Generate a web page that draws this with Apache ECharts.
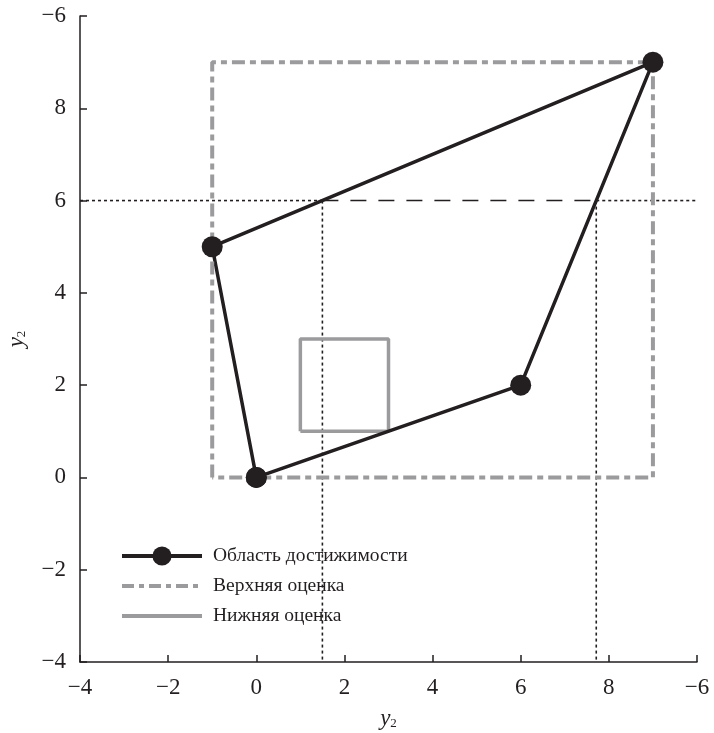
<!DOCTYPE html>
<html>
<head>
<meta charset="utf-8">
<style>html,body{margin:0;padding:0;background:#fff;}#chart{width:714px;height:733px;}</style>
<script src="https://cdn.jsdelivr.net/npm/echarts@6/dist/echarts.min.js"></script>
</head>
<body>
<div id="chart"></div>
<script>
// Attainable region vertices (closed polygon)
const regionPoints = [[0, 0], [-1, 5], [9, 9], [6, 2], [0, 0]];
// Upper estimate box
const upperBox = [[-1, 0], [-1, 9], [9, 9], [9, 0], [-1, 0]];
// Lower estimate box
const lowerBox = [[1, 1], [1, 3], [3, 3], [3, 1], [1, 1]];
// Level line y = 6 and its crossings with the region boundary
const levelY = 6;
const crossX = [1.5, 7.714];
const axisMin = -4;
const axisMax = 10;
// Tick labels as printed
const tickValues = [-4, -2, 0, 2, 4, 6, 8, 10];
const tickLabels = ['−4', '−2', '0', '2', '4', '6', '8', '−6'];
const seriesNames = ['Область достижимости', 'Верхняя оценка', 'Нижняя оценка'];

const black = '#231f20';
const grey = '#9b9b9d';
const font = '"Liberation Serif", "DejaVu Serif", serif';

function tickText(v) {
  const i = tickValues.indexOf(v);
  return i >= 0 ? tickLabels[i] : '';
}

const axisName = {
  rich: {
    i: { fontFamily: font, fontStyle: 'italic', fontSize: 23, color: black },
    s: { fontFamily: font, fontSize: 13, color: black, verticalAlign: 'bottom', padding: [10, 0, 0, 0] }
  }
};

function axisCommon(labelMargin) {
  return {
    type: 'value',
    min: axisMin,
    max: axisMax,
    interval: 2,
    splitLine: { show: false },
    axisLine: { show: true, onZero: false, lineStyle: { color: black, width: 1.5 } },
    axisTick: { show: true, inside: true, length: 7, lineStyle: { color: black, width: 1.5 } },
    axisLabel: { formatter: tickText, fontFamily: font, fontSize: 23, color: black, margin: labelMargin },
    nameLocation: 'middle',
    name: '{i|y}{s|2}',
    nameTextStyle: axisName
  };
}

const dotted = { color: black, width: 1.6, type: [3, 3] };
// Legend entries without a marker on the line
const noMarker = { color: 'rgba(0,0,0,0)', borderWidth: 0, opacity: 0 };

const option = {
  animation: false,
  backgroundColor: '#fff',
  grid: { left: 80, right: 17, top: 16, bottom: 71, containLabel: false, outerBoundsMode: 'none' },
  xAxis: Object.assign(axisCommon(14), { nameGap: 45 }),
  yAxis: Object.assign(axisCommon(14), { nameGap: 52 }),
  legend: {
    data: [
      { name: seriesNames[0] },
      { name: seriesNames[1], itemStyle: noMarker, lineStyle: { width: 4, type: [12, 5, 5, 5] } },
      { name: seriesNames[2], itemStyle: noMarker, lineStyle: { width: 4 } }
    ],
    orient: 'vertical',
    left: 115,
    top: 541,
    itemWidth: 80,
    itemHeight: 24,
    itemGap: 10,
    lineStyle: { width: 4 },
    textStyle: { fontFamily: font, fontSize: 19.5, color: black, padding: [0, 0, 0, 6] }
  },
  series: [
    {
      name: 'level-left', type: 'line', silent: true, symbol: 'none',
      data: [[axisMin, levelY], [crossX[0], levelY]], lineStyle: dotted
    },
    {
      name: 'level-mid', type: 'line', silent: true, symbol: 'none',
      data: [[crossX[0], levelY], [crossX[1], levelY]],
      lineStyle: { color: black, width: 1.6, type: [16, 12] }
    },
    {
      name: 'level-right', type: 'line', silent: true, symbol: 'none',
      data: [[crossX[1], levelY], [axisMax, levelY]], lineStyle: dotted
    },
    {
      name: 'drop-1', type: 'line', silent: true, symbol: 'none',
      data: [[crossX[0], levelY], [crossX[0], axisMin]], lineStyle: dotted
    },
    {
      name: 'drop-2', type: 'line', silent: true, symbol: 'none',
      data: [[crossX[1], levelY], [crossX[1], axisMin]], lineStyle: dotted
    },
    {
      name: seriesNames[2], type: 'line', symbol: 'none',
      data: lowerBox,
      lineStyle: { color: grey, width: 3.5 },
      itemStyle: { color: grey }
    },
    {
      name: seriesNames[0], type: 'line',
      data: regionPoints,
      symbol: 'circle', symbolSize: 21,
      lineStyle: { color: black, width: 3.5 },
      itemStyle: { color: black }
    },
    {
      name: seriesNames[1], type: 'line', symbol: 'none',
      data: upperBox,
      lineStyle: { color: grey, width: 4, type: [13, 5, 6, 5] },
      itemStyle: { color: grey }
    }
  ]
};

echarts.init(document.getElementById('chart'), null, { renderer: 'canvas' }).setOption(option);
</script>
</body>
</html>
